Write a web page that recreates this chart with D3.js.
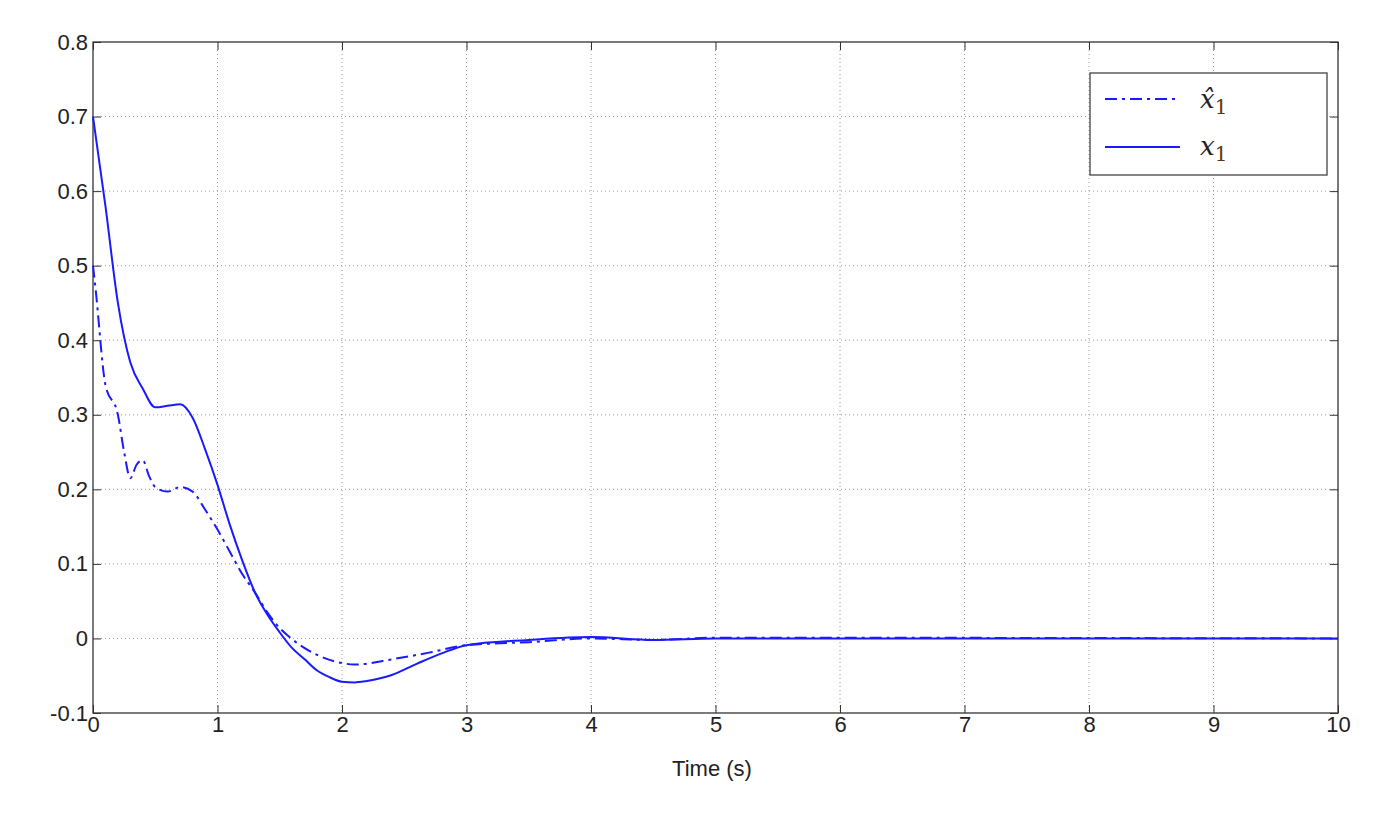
<!DOCTYPE html>
<html><head><meta charset="utf-8">
<script src="https://cdn.jsdelivr.net/npm/d3@7"></script>
<style>body{margin:0;background:#fff}</style>
</head><body><svg id="c" width="1375" height="818"></svg>
<script>
const xTicks = [0,1,2,3,4,5,6,7,8,9,10]
const yTicks = [-0.1,0,0.1,0.2,0.3,0.4,0.5,0.6,0.7,0.8]
// x1 (solid)
const tX1 = [0,0.1,0.2,0.3,0.4,0.5,0.6,0.7,0.8,0.9,1.0,1.1,1.2,1.3,1.4,1.5,1.6,1.7,1.8,1.9,2.0,2.1,2.2,2.4,2.6,2.8,3.0,3.5,4.0,4.5,5.0,10]
const vX1 = [0.70,0.58,0.45,0.37,0.335,0.31,0.312,0.314,0.296,0.254,0.206,0.152,0.104,0.062,0.032,0.008,-0.013,-0.028,-0.043,-0.052,-0.058,-0.059,-0.057,-0.049,-0.034,-0.02,-0.009,-0.002,0.002,-0.002,0,0]
// x1 hat (dash-dot)
const tXh = [0,0.02,0.1,0.2,0.25,0.3,0.35,0.4,0.45,0.5,0.6,0.7,0.8,0.9,1.0,1.1,1.2,1.3,1.4,1.5,1.6,1.8,2.0,2.1,2.4,2.7,3.0,3.5,4.0,4.5,5.0,10]
const vXh = [0.5,0.47,0.34,0.30,0.25,0.215,0.233,0.239,0.218,0.203,0.197,0.203,0.197,0.173,0.146,0.116,0.086,0.062,0.035,0.014,-0.001,-0.022,-0.033,-0.035,-0.028,-0.019,-0.009,-0.005,0,-0.002,0.001,0]

const svg = d3.select('#c')
const L=93,R=1338,T=42,B=713
const x = d3.scaleLinear().domain([0,10]).range([L,R])
const y = d3.scaleLinear().domain([-0.1,0.8]).range([B,T])
const font = 'Liberation Sans, Arial, sans-serif'

// grid
const g = svg.append('g').attr('stroke','#999').attr('stroke-dasharray','1,3').attr('stroke-width',1)
xTicks.slice(1,-1).forEach(t=>g.append('line').attr('x1',x(t)).attr('x2',x(t)).attr('y1',T).attr('y2',B))
yTicks.slice(1,-1).forEach(t=>g.append('line').attr('y1',y(t)).attr('y2',y(t)).attr('x1',L).attr('x2',R))

// axes
const fmt = d=>Math.abs(d)<1e-9?'0':d3.format('.1f')(d).replace('\u2212','-')
const ax = svg.append('g').attr('transform',`translate(0,${B})`).call(d3.axisBottom(x).tickValues(xTicks).tickSize(-8).tickPadding(3).tickFormat(d3.format('d')))
const ax2 = svg.append('g').attr('transform',`translate(0,${T})`).call(d3.axisTop(x).tickValues(xTicks).tickSize(-8).tickFormat(''))
const ay = svg.append('g').attr('transform',`translate(${L},0)`).call(d3.axisLeft(y).tickValues(yTicks).tickSize(-8).tickPadding(5).tickFormat(fmt))
const ay2 = svg.append('g').attr('transform',`translate(${R},0)`).call(d3.axisRight(y).tickValues(yTicks).tickSize(-8).tickFormat(''))
;[ax,ax2,ay,ay2].forEach(a=>{a.select('.domain').remove();a.selectAll('line').attr('stroke','#333');a.selectAll('text').attr('font-family',font).attr('font-size',22).attr('fill','#222')})
svg.append('rect').attr('x',L).attr('y',T).attr('width',R-L).attr('height',B-T).attr('fill','none').attr('stroke','#333').attr('stroke-width',1.3)

svg.append('text').attr('x',712).attr('y',776).attr('text-anchor','middle').attr('font-family',font).attr('font-size',22).attr('fill','#222').text('Time (s)')

const line = d3.line().curve(d3.curveMonotoneX)
svg.append('path').attr('d',line(tXh.map((t,i)=>[x(t),y(vXh[i])]))).attr('fill','none').attr('stroke','#1a1aff').attr('stroke-width',2).attr('stroke-dasharray','12,5,3,5')
svg.append('path').attr('d',line(tX1.map((t,i)=>[x(t),y(vX1[i])]))).attr('fill','none').attr('stroke','#1a1aff').attr('stroke-width',2)

// legend
const lg = svg.append('g')
lg.append('rect').attr('x',1090).attr('y',73).attr('width',237).attr('height',102).attr('fill','#fff').attr('stroke','#444').attr('stroke-width',1.3)
lg.append('line').attr('x1',1105).attr('x2',1180).attr('y1',99).attr('y2',99).attr('stroke','#1a1aff').attr('stroke-width',2).attr('stroke-dasharray','12,5,3,5')
lg.append('line').attr('x1',1105).attr('x2',1180).attr('y1',147).attr('y2',147).attr('stroke','#1a1aff').attr('stroke-width',2)
const mf = 'DejaVu Serif, serif'
const t1 = lg.append('text').attr('x',1200).attr('y',108).attr('font-family',mf).attr('font-size',26).attr('font-style','italic').attr('fill','#222')
t1.append('tspan').text('x̂')
t1.append('tspan').attr('dy',6).attr('font-size',20).attr('font-style','normal').attr('fill','#5a3a10').text('1')
const t2 = lg.append('text').attr('x',1200).attr('y',155).attr('font-family',mf).attr('font-size',26).attr('font-style','italic').attr('fill','#222')
t2.append('tspan').text('x')
t2.append('tspan').attr('dy',6).attr('font-size',20).attr('font-style','normal').attr('fill','#5a3a10').text('1')
</script></body></html>
